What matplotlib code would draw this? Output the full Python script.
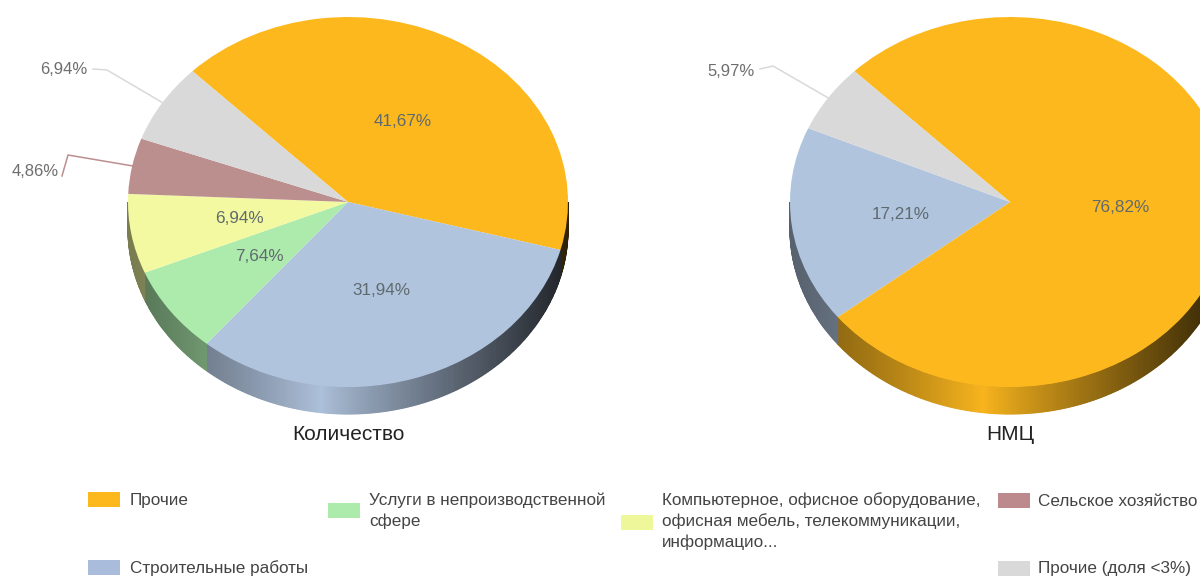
import numpy as np
import matplotlib
matplotlib.use("Agg")
import matplotlib.pyplot as plt
from matplotlib.patches import Rectangle

plt.rcParams['font.family'] = ['Liberation Sans', 'DejaVu Sans']

# Data
left_values = [41.67, 31.94, 7.64, 6.94, 4.86, 6.94]
left_labels = ['41,67%', '31,94%', '7,64%', '6,94%', '4,86%', '6,94%']
left_colors = ['#FDB81E', '#B0C4DE', '#ADEBAD', '#F3F9A0', '#BC8F8F', '#D9D9D9']
right_values = [76.82, 17.21, 5.97]
right_labels = ['76,82%', '17,21%', '5,97%']
right_colors = ['#FDB81E', '#B0C4DE', '#D9D9D9']
left_title = 'Количество'
right_title = 'НМЦ'
legend_names = ['Прочие', 'Строительные работы', 'Услуги в непроизводственной\nсфере',
                'Компьютерное, офисное оборудование,\nофисная мебель, телекоммуникации,\nинформацио...',
                'Сельское хозяйство', 'Прочие (доля <3%)']
legend_colors = ['#FDB81E', '#A9BCDC', '#ADEBAD', '#EEF79A', '#BC8A8C', '#D9D9D9']

W, H = 1200, 580
RX, RY, DEPTH = 220, 185, 27
START = -45.0  # degrees clockwise from the top
fig = plt.figure(figsize=(12, 5.8), dpi=100, facecolor='white')

# Overlay in pixel coordinates for legend, titles and leaders
ov = fig.add_axes([0, 0, 1, 1], zorder=5)
ov.set_xlim(0, W); ov.set_ylim(H, 0); ov.axis('off'); ov.patch.set_alpha(0)


def shade(x):
    """Lighting of the side wall as a function of horizontal position (-1..1)."""
    peak = -0.12
    if x < peak:
        return 0.50 + 0.48 * ((x + 1) / (peak + 1)) ** 1.3
    return 0.98 - 0.80 * ((x - peak) / (1 - peak)) ** 0.9


def draw_pie(cx, cy, values, colors, texts, outside):
    ax = fig.add_axes([(cx - RX) / W, 1 - (cy + RY) / H, 2 * RX / W, 2 * RY / H], zorder=2)
    ax.pie(values, colors=colors, startangle=90 - START, counterclock=False, radius=1,
           wedgeprops={'linewidth': 0})
    ax.set_aspect('auto')
    ax.set_xlim(-1, 1); ax.set_ylim(-1, 1)
    ax.axis('off')
    total = sum(values)
    sweep = np.array(values) / total * 360
    edges = START + np.concatenate([[0], np.cumsum(sweep)])
    d = DEPTH / RY
    for i, col in enumerate(colors):
        a0, a1 = edges[i], edges[i + 1]
        mid = np.radians((a0 + a1) / 2)
        # side wall: only the front half of the disc (90..270 deg from top)
        for shift in (0, 360, -360):
            lo, hi = max(a0 + shift, 90), min(a1 + shift, 270)
            if hi <= lo:
                continue
            steps = np.arange(lo, hi, 0.5)
            base = np.array(matplotlib.colors.to_rgb(col))
            for s in steps:
                t = np.radians([s, min(s + 0.5, hi)])
                xs, ys = np.sin(t), np.cos(t)
                c = base * shade(np.sin(np.radians(s)))
                ax.fill(np.r_[xs, xs[::-1]], np.r_[ys, (ys - d)[::-1]], facecolor=c,
                        edgecolor=c, lw=0.8, clip_on=False, zorder=0)
        if i in outside:
            ex, ey = cx + RX * np.sin(mid), cy - RY * np.cos(mid)
            (bx, by), (tx, ty), (lx, ly) = outside[i]
            ov.plot([ex, bx, tx], [ey, by, ty], color=matplotlib.colors.to_rgb(col),
                    lw=1.1, solid_joinstyle='round')
            ov.text(lx, ly, texts[i], ha='center', va='center', fontsize=12, color='#6e6e6e')
        else:
            ax.text(0.5 * np.sin(mid), 0.5 * np.cos(mid), texts[i], ha='center', va='center',
                    fontsize=12.3, color='#5f6a6e')
    return ax


draw_pie(348, 202, left_values, left_colors, left_labels,
         {4: ((68, 155), (62, 176), (35, 171)), 5: ((107, 70), (93, 69), (64, 70))})
draw_pie(1010, 202, right_values, right_colors, right_labels,
         {2: ((773, 66), (760, 69), (731, 71))})

ov.text(348, 435, left_title, ha='center', va='center', fontsize=15, color='#222222')
ov.text(1010, 435, right_title, ha='center', va='center', fontsize=15, color='#222222')

# Legend: swatch left, swatch top, text left, text centre
slots = [(88, 492, 130, 501), (88, 560, 130, 568), (328, 503, 369, 511),
         (621, 515, 662, 521), (998, 493, 1038, 501), (998, 561, 1038, 568)]
for (sx, sy, tx, ty), name, col in zip(slots, legend_names, legend_colors):
    ov.add_patch(Rectangle((sx, sy), 32, 15, facecolor=col, edgecolor='none'))
    ov.text(tx, ty, name, ha='left', va='center', fontsize=12.3, color='#444444', linespacing=1.4)

fig.savefig('out.png', dpi=100, facecolor='white')
